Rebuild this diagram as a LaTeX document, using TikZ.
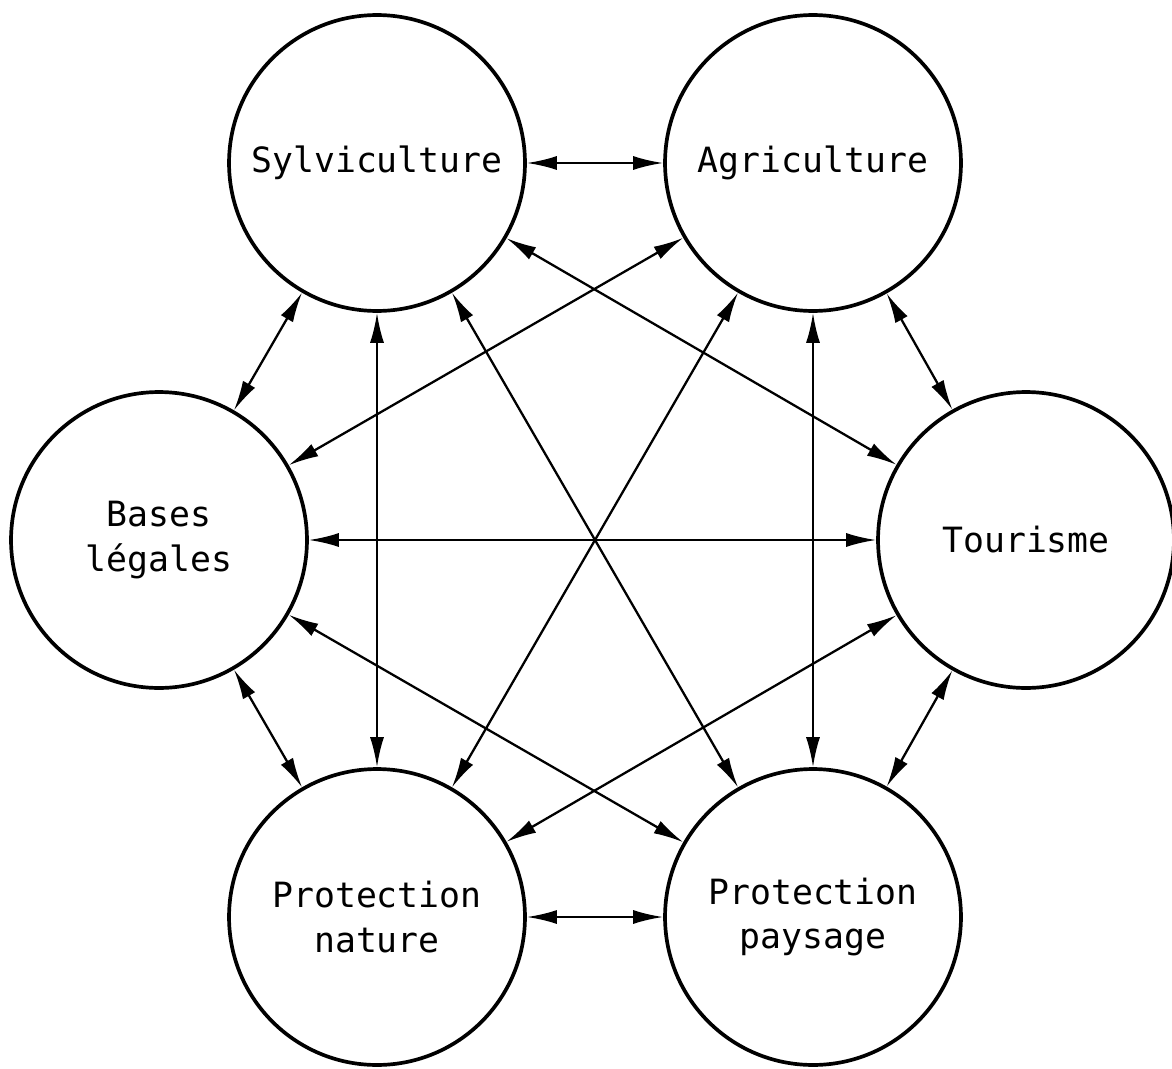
\documentclass[tikz,border=0pt]{standalone}
\usepackage{fontspec}
\setmonofont{DejaVu Sans Mono}
\usetikzlibrary{arrows.meta}
\begin{document}
\begin{tikzpicture}[x=0.02cm,y=-0.02cm,
  sectorbox/.style={circle,draw,line width=2.1pt,minimum size=5.92cm,inner sep=0pt,
    align=center,font=\ttfamily\fontsize{19.8}{25.5}\selectfont},
  link/.style={line width=1.3pt,{Latex[length=0.6cm,width=0.28cm]}-{Latex[length=0.6cm,width=0.28cm]}}]
\useasboundingbox (0,0) rectangle (1172,1068);
% six sectors on a regular hexagon around (595,540)
\node[sectorbox] (S) at (377,163) {Sylviculture};
\node[sectorbox] (A) at (813,163) {Agriculture};
\node[sectorbox] (B) at (159,540) {Bases\\l\'egales};
\node[sectorbox] (T) at (1026,540) {Tourisme};
\node[sectorbox] (N) at (377,917) {Protection\\nature};
\node[sectorbox] (P) at (813,917) {Protection\\paysage};
% every pair is linked both ways
\foreach \a/\b in {S/A,S/B,S/T,S/N,S/P,A/B,A/T,A/N,A/P,B/T,B/N,B/P,T/N,T/P,N/P}
  \draw[link] (\a) -- (\b);
\end{tikzpicture}
\end{document}
